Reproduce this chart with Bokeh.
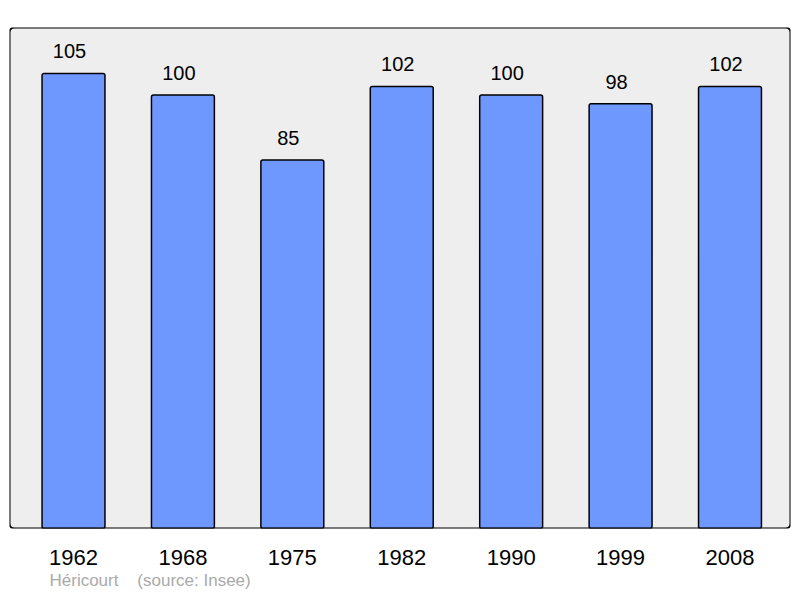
from bokeh.plotting import figure
from bokeh.models import Range1d, FixedTicker, ColumnDataSource, BoxAnnotation, Title
from bokeh.core.properties import value
from bokeh.embed import file_html
from bokeh.resources import INLINE

years = ["1962", "1968", "1975", "1982", "1990", "1999", "2008"]
population = [105, 100, 85, 102, 100, 98, 102]
town = "Héricourt"
source = "(source: Insee)"

FONT = "Liberation Sans"
xs = list(range(len(years)))
src = ColumnDataSource(dict(x=xs, top=population, label=[str(v) for v in population]))

p = figure(width=800, height=598, output_backend="svg", toolbar_location=None,
           x_range=Range1d(-0.585, 6.553), y_range=Range1d(0, 115.6),
           min_border_left=9, min_border_right=10, min_border_top=27, min_border_bottom=70)

p.background_fill_color = "white"
p.border_fill_color = "white"
p.outline_line_color = None
p.grid.visible = False
p.yaxis.visible = False

# rounded grey panel with a black border
p.add_layout(BoxAnnotation(fill_color="#eeeeee", fill_alpha=1, line_color=None,
                           border_radius=5, level="underlay"))
p.add_layout(BoxAnnotation(fill_color=None, line_color="black", line_width=2,
                           line_alpha=1, border_radius=5))

p.vbar(x="x", top="top", bottom=0, width=0.575, source=src,
       fill_color="#6f98ff", line_color="black", line_width=1.5, border_radius=2)

p.text(x="x", y="top", text="label", source=src, text_align="center",
       text_baseline="alphabetic", x_offset=-4, y_offset=-22, text_font=value(FONT),
       text_font_size="20px", text_color="black")

p.xaxis.ticker = FixedTicker(ticks=xs)
p.xaxis.major_label_overrides = {i: y for i, y in zip(xs, years)}
p.xaxis.major_label_text_font = FONT
p.xaxis.major_label_text_font_size = "22px"
p.xaxis.major_label_text_color = "black"
p.xaxis.major_label_standoff = 15
p.xaxis.axis_line_color = None
p.xaxis.major_tick_line_color = None
p.xaxis.minor_tick_line_color = None

caption = town + "\u00a0" * 4 + source
p.add_layout(Title(text=caption, align="left", offset=40, standoff=2,
                   text_font=FONT, text_font_size="17px", text_font_style="normal",
                   text_color="#aaaaaa"), "below")

open("out.html", "w").write(file_html(p, INLINE))
